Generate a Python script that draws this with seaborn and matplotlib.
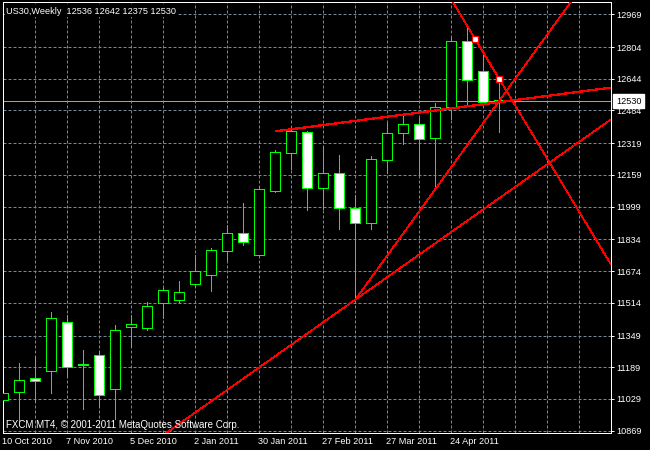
import numpy as np
import pandas as pd
import matplotlib
matplotlib.use("Agg")
import matplotlib.pyplot as plt
import matplotlib.transforms as mtransforms
import seaborn as sns

# ---------------- data ----------------
symbol = "US30,Weekly"
bar_index = list(range(32))
opens  = [11025, 11064, 11133, 11170, 11418, 11203, 11253, 11079, 11392, 11385,
          11512, 11527, 11610, 11653, 11774, 11867, 11754, 12079, 12271, 12375,
          12094, 12170, 11993, 11917, 12233, 12370, 12417, 12345, 12501, 12836,
          12685, 12536]
highs  = [11163, 11212, 11246, 11470, 11455, 11278, 11273, 11404, 11455, 11519,
          11589, 11626, 11757, 11791, 11907, 12018, 12096, 12287, 12395, 12378,
          12303, 12257, 12060, 12256, 12422, 12459, 12445, 12520, 12848, 12918,
          12784, 12642]
lows   = [10904, 10920, 11017, 11057, 11138, 10977, 10987, 10928, 11290, 11379,
          11436, 11512, 11592, 11572, 11732, 11804, 11749, 12075, 12187, 11983,
          11986, 11887, 11530, 11887, 12168, 12316, 12160, 12097, 12442, 12519,
          12520, 12375]
closes = [11061, 11125, 11120, 11438, 11191, 11199, 11047, 11377, 11406, 11498,
          11579, 11569, 11675, 11781, 11867, 11820, 12089, 12276, 12382, 12094,
          12170, 11993, 11917, 12241, 12372, 12417, 12341, 12503, 12836, 12639,
          12525, 12530]

date_tick_bars = [0, 4, 8, 12, 16, 20, 24, 28]
date_tick_labels = ["10 Oct 2010", "7 Nov 2010", "5 Dec 2010", "2 Jan 2011",
                    "30 Jan 2011", "27 Feb 2011", "27 Mar 2011", "24 Apr 2011"]
price_ticks = [12969, 12804, 12644, 12484, 12319, 12159, 11999, 11834,
               11674, 11514, 11349, 11189, 11029, 10869]
current_price = 12530

# trend lines (bar index, price)
trend_a_bars, trend_a_prices = [17, 31], [12379, 12526]      # ray to the right
trend_b_bars, trend_b_prices = [22, 31], [11530, 12042]      # full line
trend_c_bars, trend_c_prices = [22, 31], [11530, 12533]      # ray to the right
trend_d_bars, trend_d_prices = [29.5, 31], [12843, 12642]    # full line
anchor_bars, anchor_prices = [29.5, 31], [12843, 12642]

footer = "FXCM MT4, \u00a9 2001-2011 MetaQuotes Software Corp."

# ---------------- style ----------------
sns.set_theme(style="dark", rc={
    "axes.facecolor": "black", "figure.facecolor": "black",
    "axes.edgecolor": "white", "text.color": "white",
    "xtick.color": "white", "ytick.color": "white",
    "axes.grid": False,
})
plt.rcParams["font.family"] = ["Liberation Sans", "DejaVu Sans"]

df = pd.DataFrame({"bar": bar_index, "open": opens, "high": highs,
                   "low": lows, "close": closes})
df["bull"] = df["close"] >= df["open"]
df["bottom"] = df[["open", "close"]].min(axis=1)
df["height"] = (df["close"] - df["open"]).abs()

W, H = 650, 450
fig = plt.figure(figsize=(6.5, 4.5), dpi=100)
ax = fig.add_axes([2.7 / W, (H - 432.5) / H, 608 / W, (432.5 - 2.3) / H])
ax.set_facecolor("black")

xlim = (-0.0375, 37.96)
ylim = (10860, 13029.5)
ax.set_xlim(*xlim)
ax.set_ylim(*ylim)

LIME = "#00ff00"
GRID = "#778899"
PX = 0.72  # one pixel in points

# grid
ax.set_xticks(date_tick_bars)
ax.set_xticks(np.arange(0, 38, 2), minor=True)
ax.set_yticks(price_ticks)
ax.grid(which="both", axis="x", color=GRID, lw=PX, linestyle=(0, (3, 2)))
ax.grid(which="major", axis="y", color=GRID, lw=PX, linestyle=(0, (3, 2)))
ax.set_axisbelow(True)

# current price line
ax.axhline(current_price, color="#a0a0a0", lw=PX, zorder=1.5)

# wicks
ax.vlines(df["bar"], df["low"], df["high"], color=LIME, lw=PX, zorder=2,
          antialiased=False)
# bodies
fills = np.where(df["bull"], "black", "white")
ax.bar(df["bar"], df["height"], bottom=df["bottom"], width=0.62,
       color=fills, edgecolor=LIME, linewidth=0.68, zorder=3, antialiased=False)

# trend lines
RED = "#ff0000"
def ray(bars, prices):
    slope = (prices[1] - prices[0]) / (bars[1] - bars[0])
    x1 = xlim[1]
    return [bars[0], x1], [prices[0], prices[0] + slope * (x1 - bars[0])]

def full(bars, prices):
    slope = (prices[1] - prices[0]) / (bars[1] - bars[0])
    x0, x1 = xlim
    return [x0, x1], [prices[0] + slope * (x0 - bars[0]), prices[0] + slope * (x1 - bars[0])]

for fn, b, p, lw in [(ray, trend_a_bars, trend_a_prices, 0.9),
                     (full, trend_b_bars, trend_b_prices, 0.55),
                     (ray, trend_c_bars, trend_c_prices, 0.55),
                     (full, trend_d_bars, trend_d_prices, 0.55)]:
    xs, ys = fn(b, p)
    ax.plot(xs, ys, color=RED, lw=lw, zorder=4, antialiased=False, solid_capstyle="butt")

sns.scatterplot(x=anchor_bars, y=anchor_prices, marker="s", s=14, color="white",
                edgecolor=RED, linewidth=0.9, zorder=5, ax=ax, legend=False)

# axes / ticks
for s in ax.spines.values():
    s.set_color("white")
    s.set_linewidth(PX)
ax.yaxis.tick_right()
ax.tick_params(axis="y", which="major", direction="out", length=2, width=PX,
               pad=1.8, labelsize=6.6, colors="white", left=False, right=True)
ax.tick_params(axis="x", which="major", direction="out", length=2.4, width=PX,
               pad=1.0, labelsize=6.6, colors="white")
ax.tick_params(axis="x", which="minor", length=0)
ax.set_yticklabels([str(v) for v in price_ticks])
ax.set_xticklabels(date_tick_labels)
for lab in ax.get_xticklabels():
    lab.set_horizontalalignment("left")
    lab.set_transform(lab.get_transform() + mtransforms.ScaledTranslation(-1.5 / 100, 0, fig.dpi_scale_trans))
ax.set_xlabel("")
ax.set_ylabel("")

# current price label box
ax.text(1.0087, current_price, str(current_price), transform=ax.get_yaxis_transform(),
        ha="left", va="center", fontsize=6.6, color="black", zorder=10, clip_on=False,
        bbox=dict(boxstyle="square,pad=0.28", facecolor="white", edgecolor="white"))

# header and footer
header = f"{symbol}  {opens[-1]} {highs[-1]} {lows[-1]} {closes[-1]}"
fig.text(6.5 / W, 1 - 13.5 / H, header, color="white", fontsize=6.6, va="baseline",
         ha="left", zorder=10,
         bbox=dict(boxstyle="square,pad=0.12", facecolor="black", edgecolor="none"))
fig.text(5.7 / W, 1 - 428.3 / H, footer, color="white", fontsize=7.0, va="baseline",
         ha="left", zorder=10)

fig.savefig("out.png", dpi=100, facecolor="black")
